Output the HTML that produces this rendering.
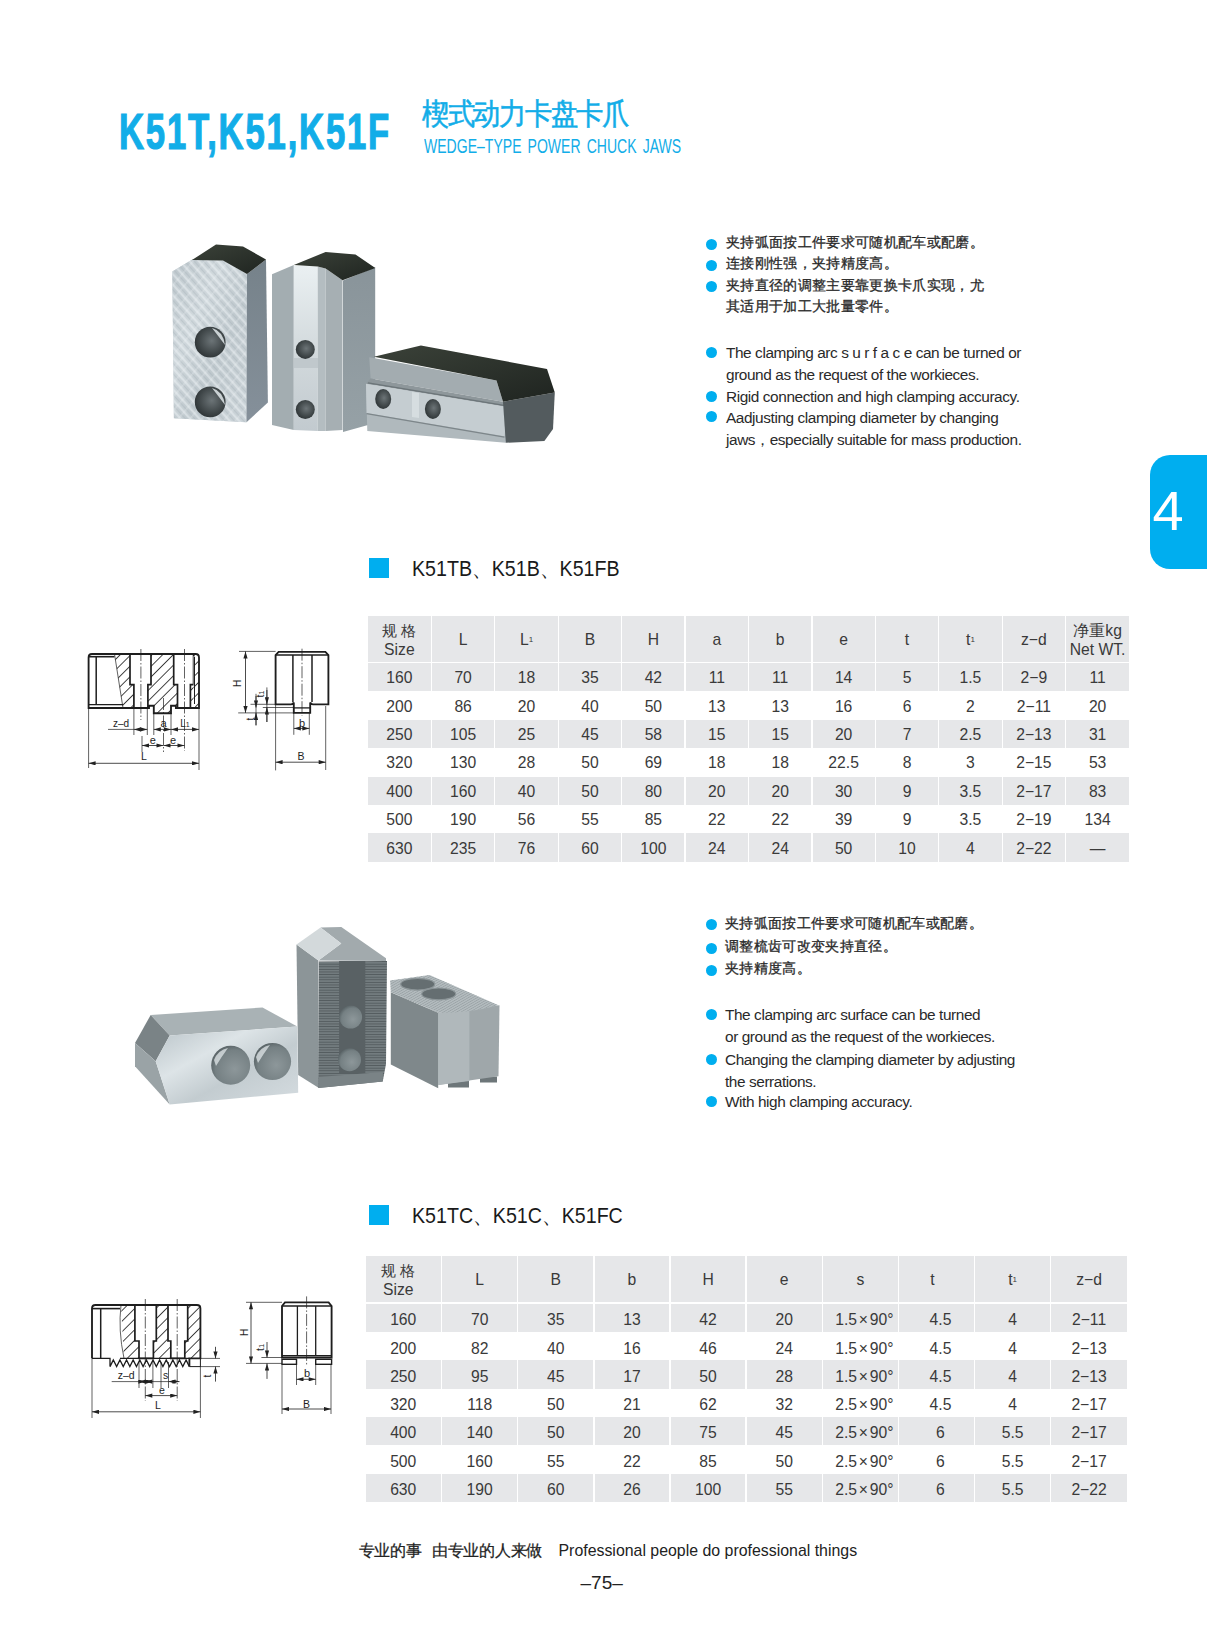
<!DOCTYPE html>
<html><head><meta charset="utf-8">
<style>
html,body{margin:0;padding:0;background:#fff;}
body{width:1207px;height:1649px;position:relative;overflow:hidden;font-family:"Liberation Sans",sans-serif;color:#333;}
.a{position:absolute;white-space:nowrap;}
.tbl{position:absolute;}
.c{position:absolute;display:flex;align-items:center;justify-content:center;text-align:center;font-size:15.7px;color:#3a3a3a;line-height:1;padding-top:2px;box-sizing:border-box;}
.bul{position:absolute;width:11px;height:11px;border-radius:50%;background:#00aeef;}
.cn{font-size:14px;letter-spacing:0.33px;color:#2a2a2a;-webkit-text-stroke:0.3px #2a2a2a;}
.en{font-size:15.4px;letter-spacing:-0.42px;color:#2a2a2a;}
sub{font-size:8px;vertical-align:-1px;}
</style></head><body>

<div class="a" style="left:118.5px;top:101.5px;font-weight:bold;font-size:49.5px;color:#12ade8;transform:scaleX(0.7);letter-spacing:2.6px;-webkit-text-stroke:1.2px #12ade8;transform-origin:0 0;line-height:60px;">K51T,K51,K51F</div>
<div class="a" style="left:422px;top:96px;font-size:27px;color:#12ade8;line-height:36px;letter-spacing:-1.3px;transform:scaleY(1.1);transform-origin:0 18px;-webkit-text-stroke:0.5px #12ade8;">楔式动力卡盘卡爪</div>
<div class="a" style="left:424px;top:136px;font-size:19.5px;color:#12ade8;line-height:20px;transform:scaleX(0.72);transform-origin:0 0;word-spacing:3px;">WEDGE–TYPE POWER CHUCK JAWS</div>
<div class="a" style="left:1150px;top:455px;width:57px;height:114px;background:#00aeef;border-radius:20px 0 0 20px;"></div>
<div class="a" style="left:1152.5px;top:480.5px;font-size:56px;color:#fff;line-height:60px;">4</div>
<div class="a" style="left:369px;top:558px;width:20px;height:20px;background:#00aeef;"></div>
<div class="a" style="left:412px;top:554.5px;font-size:21.8px;line-height:28px;color:#1a1a1a;transform:scaleX(0.9);transform-origin:0 0;">K51TB、K51B、K51FB</div>
<div class="a" style="left:369px;top:1205px;width:20px;height:20px;background:#00aeef;"></div>
<div class="a" style="left:412px;top:1201.5px;font-size:21.8px;line-height:28px;color:#1a1a1a;transform:scaleX(0.9);transform-origin:0 0;">K51TC、K51C、K51FC</div>
<div class="bul" style="left:705.9px;top:238.7px;"></div>
<div class="a cn" style="left:726px;top:231.0px;line-height:22px;">夹持弧面按工件要求可随机配车或配磨。</div>
<div class="bul" style="left:705.9px;top:259.8px;"></div>
<div class="a cn" style="left:726px;top:252.10000000000002px;line-height:22px;">连接刚性强，夹持精度高。</div>
<div class="bul" style="left:705.9px;top:281.2px;"></div>
<div class="a cn" style="left:726px;top:273.5px;line-height:22px;">夹持直径的调整主要靠更换卡爪实现，尤</div>
<div class="a cn" style="left:726px;top:294.8px;line-height:22px;">其适用于加工大批量零件。</div>
<div class="bul" style="left:705.9px;top:346.9px;"></div>
<div class="a en" style="left:726px;top:342.2px;line-height:22px;">The clamping arc s u r f a c e can be turned or</div>
<div class="a en" style="left:726px;top:364.2px;line-height:22px;">ground as the request of the workieces.</div>
<div class="bul" style="left:705.9px;top:390.6px;"></div>
<div class="a en" style="left:726px;top:385.90000000000003px;line-height:22px;">Rigid connection and high clamping accuracy.</div>
<div class="bul" style="left:705.9px;top:411.2px;"></div>
<div class="a en" style="left:726px;top:406.5px;line-height:22px;">Aadjusting clamping diameter by changing</div>
<div class="a en" style="left:726px;top:428.5px;line-height:22px;">jaws，especially suitable for mass production.</div>
<div class="bul" style="left:705.9px;top:919.4px;"></div>
<div class="a cn" style="left:725px;top:911.6999999999999px;line-height:22px;">夹持弧面按工件要求可随机配车或配磨。</div>
<div class="bul" style="left:705.9px;top:942.8px;"></div>
<div class="a cn" style="left:725px;top:935.0999999999999px;line-height:22px;">调整梳齿可改变夹持直径。</div>
<div class="bul" style="left:705.9px;top:964.5px;"></div>
<div class="a cn" style="left:725px;top:956.8px;line-height:22px;">夹持精度高。</div>
<div class="bul" style="left:705.9px;top:1009.0px;"></div>
<div class="a en" style="left:725px;top:1004.3px;line-height:22px;">The clamping arc surface can be turned</div>
<div class="a en" style="left:725px;top:1026.3px;line-height:22px;">or ground as the request of the workieces.</div>
<div class="bul" style="left:705.9px;top:1053.7px;"></div>
<div class="a en" style="left:725px;top:1049.0px;line-height:22px;">Changing the clamping diameter by adjusting</div>
<div class="a en" style="left:725px;top:1071.0px;line-height:22px;">the serrations.</div>
<div class="bul" style="left:705.9px;top:1095.9px;"></div>
<div class="a en" style="left:725px;top:1091.2px;line-height:22px;">With high clamping accuracy.</div>
<div class="c" style="left:368.00px;top:616px;width:62.77px;height:46px;background:#e6e7e9;"><div style="line-height:19px;margin-top:0px;white-space:nowrap;"><span style="font-size:15px;letter-spacing:4px;padding-left:4px;">规格</span><br>Size</div></div>
<div class="c" style="left:432.07px;top:616px;width:62.12px;height:46px;background:#e6e7e9;">L</div>
<div class="c" style="left:495.48px;top:616px;width:62.12px;height:46px;background:#e6e7e9;">L<sub>1</sub></div>
<div class="c" style="left:558.90px;top:616px;width:62.12px;height:46px;background:#e6e7e9;">B</div>
<div class="c" style="left:622.32px;top:616px;width:62.12px;height:46px;background:#e6e7e9;">H</div>
<div class="c" style="left:685.73px;top:616px;width:62.12px;height:46px;background:#e6e7e9;">a</div>
<div class="c" style="left:749.15px;top:616px;width:62.12px;height:46px;background:#e6e7e9;">b</div>
<div class="c" style="left:812.57px;top:616px;width:62.12px;height:46px;background:#e6e7e9;">e</div>
<div class="c" style="left:875.98px;top:616px;width:62.12px;height:46px;background:#e6e7e9;">t</div>
<div class="c" style="left:939.40px;top:616px;width:62.12px;height:46px;background:#e6e7e9;">t<sub>1</sub></div>
<div class="c" style="left:1002.82px;top:616px;width:62.12px;height:46px;background:#e6e7e9;">z−d</div>
<div class="c" style="left:1066.23px;top:616px;width:62.77px;height:46px;background:#e6e7e9;"><div style="line-height:18.5px;margin-top:1px;">净重kg<br>Net WT.</div></div>
<div class="c" style="left:368.00px;top:662.80px;width:62.77px;height:28.42px;background:#e6e7e9;padding-top:2px;">160</div>
<div class="c" style="left:432.07px;top:662.80px;width:62.12px;height:28.42px;background:#e6e7e9;padding-top:2px;">70</div>
<div class="c" style="left:495.48px;top:662.80px;width:62.12px;height:28.42px;background:#e6e7e9;padding-top:2px;">18</div>
<div class="c" style="left:558.90px;top:662.80px;width:62.12px;height:28.42px;background:#e6e7e9;padding-top:2px;">35</div>
<div class="c" style="left:622.32px;top:662.80px;width:62.12px;height:28.42px;background:#e6e7e9;padding-top:2px;">42</div>
<div class="c" style="left:685.73px;top:662.80px;width:62.12px;height:28.42px;background:#e6e7e9;padding-top:2px;">11</div>
<div class="c" style="left:749.15px;top:662.80px;width:62.12px;height:28.42px;background:#e6e7e9;padding-top:2px;">11</div>
<div class="c" style="left:812.57px;top:662.80px;width:62.12px;height:28.42px;background:#e6e7e9;padding-top:2px;">14</div>
<div class="c" style="left:875.98px;top:662.80px;width:62.12px;height:28.42px;background:#e6e7e9;padding-top:2px;">5</div>
<div class="c" style="left:939.40px;top:662.80px;width:62.12px;height:28.42px;background:#e6e7e9;padding-top:2px;">1.5</div>
<div class="c" style="left:1002.82px;top:662.80px;width:62.12px;height:28.42px;background:#e6e7e9;padding-top:2px;">2−9</div>
<div class="c" style="left:1066.23px;top:662.80px;width:62.77px;height:28.42px;background:#e6e7e9;padding-top:2px;">11</div>
<div class="c" style="left:368.00px;top:691.23px;width:62.77px;height:28.42px;background:#fff;padding-top:2px;">200</div>
<div class="c" style="left:432.07px;top:691.23px;width:62.12px;height:28.42px;background:#fff;padding-top:2px;">86</div>
<div class="c" style="left:495.48px;top:691.23px;width:62.12px;height:28.42px;background:#fff;padding-top:2px;">20</div>
<div class="c" style="left:558.90px;top:691.23px;width:62.12px;height:28.42px;background:#fff;padding-top:2px;">40</div>
<div class="c" style="left:622.32px;top:691.23px;width:62.12px;height:28.42px;background:#fff;padding-top:2px;">50</div>
<div class="c" style="left:685.73px;top:691.23px;width:62.12px;height:28.42px;background:#fff;padding-top:2px;">13</div>
<div class="c" style="left:749.15px;top:691.23px;width:62.12px;height:28.42px;background:#fff;padding-top:2px;">13</div>
<div class="c" style="left:812.57px;top:691.23px;width:62.12px;height:28.42px;background:#fff;padding-top:2px;">16</div>
<div class="c" style="left:875.98px;top:691.23px;width:62.12px;height:28.42px;background:#fff;padding-top:2px;">6</div>
<div class="c" style="left:939.40px;top:691.23px;width:62.12px;height:28.42px;background:#fff;padding-top:2px;">2</div>
<div class="c" style="left:1002.82px;top:691.23px;width:62.12px;height:28.42px;background:#fff;padding-top:2px;">2−11</div>
<div class="c" style="left:1066.23px;top:691.23px;width:62.77px;height:28.42px;background:#fff;padding-top:2px;">20</div>
<div class="c" style="left:368.00px;top:719.66px;width:62.77px;height:28.42px;background:#e6e7e9;padding-top:2px;">250</div>
<div class="c" style="left:432.07px;top:719.66px;width:62.12px;height:28.42px;background:#e6e7e9;padding-top:2px;">105</div>
<div class="c" style="left:495.48px;top:719.66px;width:62.12px;height:28.42px;background:#e6e7e9;padding-top:2px;">25</div>
<div class="c" style="left:558.90px;top:719.66px;width:62.12px;height:28.42px;background:#e6e7e9;padding-top:2px;">45</div>
<div class="c" style="left:622.32px;top:719.66px;width:62.12px;height:28.42px;background:#e6e7e9;padding-top:2px;">58</div>
<div class="c" style="left:685.73px;top:719.66px;width:62.12px;height:28.42px;background:#e6e7e9;padding-top:2px;">15</div>
<div class="c" style="left:749.15px;top:719.66px;width:62.12px;height:28.42px;background:#e6e7e9;padding-top:2px;">15</div>
<div class="c" style="left:812.57px;top:719.66px;width:62.12px;height:28.42px;background:#e6e7e9;padding-top:2px;">20</div>
<div class="c" style="left:875.98px;top:719.66px;width:62.12px;height:28.42px;background:#e6e7e9;padding-top:2px;">7</div>
<div class="c" style="left:939.40px;top:719.66px;width:62.12px;height:28.42px;background:#e6e7e9;padding-top:2px;">2.5</div>
<div class="c" style="left:1002.82px;top:719.66px;width:62.12px;height:28.42px;background:#e6e7e9;padding-top:2px;">2−13</div>
<div class="c" style="left:1066.23px;top:719.66px;width:62.77px;height:28.42px;background:#e6e7e9;padding-top:2px;">31</div>
<div class="c" style="left:368.00px;top:748.09px;width:62.77px;height:28.42px;background:#fff;padding-top:2px;">320</div>
<div class="c" style="left:432.07px;top:748.09px;width:62.12px;height:28.42px;background:#fff;padding-top:2px;">130</div>
<div class="c" style="left:495.48px;top:748.09px;width:62.12px;height:28.42px;background:#fff;padding-top:2px;">28</div>
<div class="c" style="left:558.90px;top:748.09px;width:62.12px;height:28.42px;background:#fff;padding-top:2px;">50</div>
<div class="c" style="left:622.32px;top:748.09px;width:62.12px;height:28.42px;background:#fff;padding-top:2px;">69</div>
<div class="c" style="left:685.73px;top:748.09px;width:62.12px;height:28.42px;background:#fff;padding-top:2px;">18</div>
<div class="c" style="left:749.15px;top:748.09px;width:62.12px;height:28.42px;background:#fff;padding-top:2px;">18</div>
<div class="c" style="left:812.57px;top:748.09px;width:62.12px;height:28.42px;background:#fff;padding-top:2px;">22.5</div>
<div class="c" style="left:875.98px;top:748.09px;width:62.12px;height:28.42px;background:#fff;padding-top:2px;">8</div>
<div class="c" style="left:939.40px;top:748.09px;width:62.12px;height:28.42px;background:#fff;padding-top:2px;">3</div>
<div class="c" style="left:1002.82px;top:748.09px;width:62.12px;height:28.42px;background:#fff;padding-top:2px;">2−15</div>
<div class="c" style="left:1066.23px;top:748.09px;width:62.77px;height:28.42px;background:#fff;padding-top:2px;">53</div>
<div class="c" style="left:368.00px;top:776.52px;width:62.77px;height:28.42px;background:#e6e7e9;padding-top:2px;">400</div>
<div class="c" style="left:432.07px;top:776.52px;width:62.12px;height:28.42px;background:#e6e7e9;padding-top:2px;">160</div>
<div class="c" style="left:495.48px;top:776.52px;width:62.12px;height:28.42px;background:#e6e7e9;padding-top:2px;">40</div>
<div class="c" style="left:558.90px;top:776.52px;width:62.12px;height:28.42px;background:#e6e7e9;padding-top:2px;">50</div>
<div class="c" style="left:622.32px;top:776.52px;width:62.12px;height:28.42px;background:#e6e7e9;padding-top:2px;">80</div>
<div class="c" style="left:685.73px;top:776.52px;width:62.12px;height:28.42px;background:#e6e7e9;padding-top:2px;">20</div>
<div class="c" style="left:749.15px;top:776.52px;width:62.12px;height:28.42px;background:#e6e7e9;padding-top:2px;">20</div>
<div class="c" style="left:812.57px;top:776.52px;width:62.12px;height:28.42px;background:#e6e7e9;padding-top:2px;">30</div>
<div class="c" style="left:875.98px;top:776.52px;width:62.12px;height:28.42px;background:#e6e7e9;padding-top:2px;">9</div>
<div class="c" style="left:939.40px;top:776.52px;width:62.12px;height:28.42px;background:#e6e7e9;padding-top:2px;">3.5</div>
<div class="c" style="left:1002.82px;top:776.52px;width:62.12px;height:28.42px;background:#e6e7e9;padding-top:2px;">2−17</div>
<div class="c" style="left:1066.23px;top:776.52px;width:62.77px;height:28.42px;background:#e6e7e9;padding-top:2px;">83</div>
<div class="c" style="left:368.00px;top:804.95px;width:62.77px;height:28.42px;background:#fff;padding-top:2px;">500</div>
<div class="c" style="left:432.07px;top:804.95px;width:62.12px;height:28.42px;background:#fff;padding-top:2px;">190</div>
<div class="c" style="left:495.48px;top:804.95px;width:62.12px;height:28.42px;background:#fff;padding-top:2px;">56</div>
<div class="c" style="left:558.90px;top:804.95px;width:62.12px;height:28.42px;background:#fff;padding-top:2px;">55</div>
<div class="c" style="left:622.32px;top:804.95px;width:62.12px;height:28.42px;background:#fff;padding-top:2px;">85</div>
<div class="c" style="left:685.73px;top:804.95px;width:62.12px;height:28.42px;background:#fff;padding-top:2px;">22</div>
<div class="c" style="left:749.15px;top:804.95px;width:62.12px;height:28.42px;background:#fff;padding-top:2px;">22</div>
<div class="c" style="left:812.57px;top:804.95px;width:62.12px;height:28.42px;background:#fff;padding-top:2px;">39</div>
<div class="c" style="left:875.98px;top:804.95px;width:62.12px;height:28.42px;background:#fff;padding-top:2px;">9</div>
<div class="c" style="left:939.40px;top:804.95px;width:62.12px;height:28.42px;background:#fff;padding-top:2px;">3.5</div>
<div class="c" style="left:1002.82px;top:804.95px;width:62.12px;height:28.42px;background:#fff;padding-top:2px;">2−19</div>
<div class="c" style="left:1066.23px;top:804.95px;width:62.77px;height:28.42px;background:#fff;padding-top:2px;">134</div>
<div class="c" style="left:368.00px;top:833.38px;width:62.77px;height:28.42px;background:#e6e7e9;padding-top:2px;">630</div>
<div class="c" style="left:432.07px;top:833.38px;width:62.12px;height:28.42px;background:#e6e7e9;padding-top:2px;">235</div>
<div class="c" style="left:495.48px;top:833.38px;width:62.12px;height:28.42px;background:#e6e7e9;padding-top:2px;">76</div>
<div class="c" style="left:558.90px;top:833.38px;width:62.12px;height:28.42px;background:#e6e7e9;padding-top:2px;">60</div>
<div class="c" style="left:622.32px;top:833.38px;width:62.12px;height:28.42px;background:#e6e7e9;padding-top:2px;">100</div>
<div class="c" style="left:685.73px;top:833.38px;width:62.12px;height:28.42px;background:#e6e7e9;padding-top:2px;">24</div>
<div class="c" style="left:749.15px;top:833.38px;width:62.12px;height:28.42px;background:#e6e7e9;padding-top:2px;">24</div>
<div class="c" style="left:812.57px;top:833.38px;width:62.12px;height:28.42px;background:#e6e7e9;padding-top:2px;">50</div>
<div class="c" style="left:875.98px;top:833.38px;width:62.12px;height:28.42px;background:#e6e7e9;padding-top:2px;">10</div>
<div class="c" style="left:939.40px;top:833.38px;width:62.12px;height:28.42px;background:#e6e7e9;padding-top:2px;">4</div>
<div class="c" style="left:1002.82px;top:833.38px;width:62.12px;height:28.42px;background:#e6e7e9;padding-top:2px;">2−22</div>
<div class="c" style="left:1066.23px;top:833.38px;width:62.77px;height:28.42px;background:#e6e7e9;padding-top:2px;">—</div>
<div class="c" style="left:365.50px;top:1256px;width:75.48px;height:45.6px;background:#e6e7e9;padding-right:10px;"><div style="line-height:19px;margin-top:0px;white-space:nowrap;"><span style="font-size:15px;letter-spacing:4px;padding-left:4px;">规格</span><br>Size</div></div>
<div class="c" style="left:442.28px;top:1256px;width:74.83px;height:45.6px;background:#e6e7e9;">L</div>
<div class="c" style="left:518.41px;top:1256px;width:74.83px;height:45.6px;background:#e6e7e9;">B</div>
<div class="c" style="left:594.54px;top:1256px;width:74.83px;height:45.6px;background:#e6e7e9;">b</div>
<div class="c" style="left:670.67px;top:1256px;width:74.83px;height:45.6px;background:#e6e7e9;">H</div>
<div class="c" style="left:746.80px;top:1256px;width:74.83px;height:45.6px;background:#e6e7e9;">e</div>
<div class="c" style="left:822.93px;top:1256px;width:74.83px;height:45.6px;background:#e6e7e9;">s</div>
<div class="c" style="left:899.06px;top:1256px;width:74.83px;height:45.6px;background:#e6e7e9;padding-right:8px;">t</div>
<div class="c" style="left:975.19px;top:1256px;width:74.83px;height:45.6px;background:#e6e7e9;">t<sub>1</sub></div>
<div class="c" style="left:1051.32px;top:1256px;width:75.48px;height:45.6px;background:#e6e7e9;">z−d</div>
<div class="c" style="left:365.50px;top:1303.80px;width:75.48px;height:28.28px;background:#e6e7e9;padding-top:4.5px;">160</div>
<div class="c" style="left:442.28px;top:1303.80px;width:74.83px;height:28.28px;background:#e6e7e9;padding-top:4.5px;">70</div>
<div class="c" style="left:518.41px;top:1303.80px;width:74.83px;height:28.28px;background:#e6e7e9;padding-top:4.5px;">35</div>
<div class="c" style="left:594.54px;top:1303.80px;width:74.83px;height:28.28px;background:#e6e7e9;padding-top:4.5px;">13</div>
<div class="c" style="left:670.67px;top:1303.80px;width:74.83px;height:28.28px;background:#e6e7e9;padding-top:4.5px;">42</div>
<div class="c" style="left:746.80px;top:1303.80px;width:74.83px;height:28.28px;background:#e6e7e9;padding-top:4.5px;">20</div>
<div class="c" style="left:822.93px;top:1303.80px;width:74.83px;height:28.28px;background:#e6e7e9;padding-left:8px;padding-top:4.5px;">1.5<span style="margin:0 1.8px;">×</span>90°</div>
<div class="c" style="left:899.06px;top:1303.80px;width:74.83px;height:28.28px;background:#e6e7e9;padding-left:8px;padding-top:4.5px;">4.5</div>
<div class="c" style="left:975.19px;top:1303.80px;width:74.83px;height:28.28px;background:#e6e7e9;padding-top:4.5px;">4</div>
<div class="c" style="left:1051.32px;top:1303.80px;width:75.48px;height:28.28px;background:#e6e7e9;padding-top:4.5px;">2−11</div>
<div class="c" style="left:365.50px;top:1332.09px;width:75.48px;height:28.28px;background:#fff;padding-top:4.5px;">200</div>
<div class="c" style="left:442.28px;top:1332.09px;width:74.83px;height:28.28px;background:#fff;padding-top:4.5px;">82</div>
<div class="c" style="left:518.41px;top:1332.09px;width:74.83px;height:28.28px;background:#fff;padding-top:4.5px;">40</div>
<div class="c" style="left:594.54px;top:1332.09px;width:74.83px;height:28.28px;background:#fff;padding-top:4.5px;">16</div>
<div class="c" style="left:670.67px;top:1332.09px;width:74.83px;height:28.28px;background:#fff;padding-top:4.5px;">46</div>
<div class="c" style="left:746.80px;top:1332.09px;width:74.83px;height:28.28px;background:#fff;padding-top:4.5px;">24</div>
<div class="c" style="left:822.93px;top:1332.09px;width:74.83px;height:28.28px;background:#fff;padding-left:8px;padding-top:4.5px;">1.5<span style="margin:0 1.8px;">×</span>90°</div>
<div class="c" style="left:899.06px;top:1332.09px;width:74.83px;height:28.28px;background:#fff;padding-left:8px;padding-top:4.5px;">4.5</div>
<div class="c" style="left:975.19px;top:1332.09px;width:74.83px;height:28.28px;background:#fff;padding-top:4.5px;">4</div>
<div class="c" style="left:1051.32px;top:1332.09px;width:75.48px;height:28.28px;background:#fff;padding-top:4.5px;">2−13</div>
<div class="c" style="left:365.50px;top:1360.38px;width:75.48px;height:28.28px;background:#e6e7e9;padding-top:4.5px;">250</div>
<div class="c" style="left:442.28px;top:1360.38px;width:74.83px;height:28.28px;background:#e6e7e9;padding-top:4.5px;">95</div>
<div class="c" style="left:518.41px;top:1360.38px;width:74.83px;height:28.28px;background:#e6e7e9;padding-top:4.5px;">45</div>
<div class="c" style="left:594.54px;top:1360.38px;width:74.83px;height:28.28px;background:#e6e7e9;padding-top:4.5px;">17</div>
<div class="c" style="left:670.67px;top:1360.38px;width:74.83px;height:28.28px;background:#e6e7e9;padding-top:4.5px;">50</div>
<div class="c" style="left:746.80px;top:1360.38px;width:74.83px;height:28.28px;background:#e6e7e9;padding-top:4.5px;">28</div>
<div class="c" style="left:822.93px;top:1360.38px;width:74.83px;height:28.28px;background:#e6e7e9;padding-left:8px;padding-top:4.5px;">1.5<span style="margin:0 1.8px;">×</span>90°</div>
<div class="c" style="left:899.06px;top:1360.38px;width:74.83px;height:28.28px;background:#e6e7e9;padding-left:8px;padding-top:4.5px;">4.5</div>
<div class="c" style="left:975.19px;top:1360.38px;width:74.83px;height:28.28px;background:#e6e7e9;padding-top:4.5px;">4</div>
<div class="c" style="left:1051.32px;top:1360.38px;width:75.48px;height:28.28px;background:#e6e7e9;padding-top:4.5px;">2−13</div>
<div class="c" style="left:365.50px;top:1388.67px;width:75.48px;height:28.28px;background:#fff;padding-top:4.5px;">320</div>
<div class="c" style="left:442.28px;top:1388.67px;width:74.83px;height:28.28px;background:#fff;padding-top:4.5px;">118</div>
<div class="c" style="left:518.41px;top:1388.67px;width:74.83px;height:28.28px;background:#fff;padding-top:4.5px;">50</div>
<div class="c" style="left:594.54px;top:1388.67px;width:74.83px;height:28.28px;background:#fff;padding-top:4.5px;">21</div>
<div class="c" style="left:670.67px;top:1388.67px;width:74.83px;height:28.28px;background:#fff;padding-top:4.5px;">62</div>
<div class="c" style="left:746.80px;top:1388.67px;width:74.83px;height:28.28px;background:#fff;padding-top:4.5px;">32</div>
<div class="c" style="left:822.93px;top:1388.67px;width:74.83px;height:28.28px;background:#fff;padding-left:8px;padding-top:4.5px;">2.5<span style="margin:0 1.8px;">×</span>90°</div>
<div class="c" style="left:899.06px;top:1388.67px;width:74.83px;height:28.28px;background:#fff;padding-left:8px;padding-top:4.5px;">4.5</div>
<div class="c" style="left:975.19px;top:1388.67px;width:74.83px;height:28.28px;background:#fff;padding-top:4.5px;">4</div>
<div class="c" style="left:1051.32px;top:1388.67px;width:75.48px;height:28.28px;background:#fff;padding-top:4.5px;">2−17</div>
<div class="c" style="left:365.50px;top:1416.96px;width:75.48px;height:28.28px;background:#e6e7e9;padding-top:4.5px;">400</div>
<div class="c" style="left:442.28px;top:1416.96px;width:74.83px;height:28.28px;background:#e6e7e9;padding-top:4.5px;">140</div>
<div class="c" style="left:518.41px;top:1416.96px;width:74.83px;height:28.28px;background:#e6e7e9;padding-top:4.5px;">50</div>
<div class="c" style="left:594.54px;top:1416.96px;width:74.83px;height:28.28px;background:#e6e7e9;padding-top:4.5px;">20</div>
<div class="c" style="left:670.67px;top:1416.96px;width:74.83px;height:28.28px;background:#e6e7e9;padding-top:4.5px;">75</div>
<div class="c" style="left:746.80px;top:1416.96px;width:74.83px;height:28.28px;background:#e6e7e9;padding-top:4.5px;">45</div>
<div class="c" style="left:822.93px;top:1416.96px;width:74.83px;height:28.28px;background:#e6e7e9;padding-left:8px;padding-top:4.5px;">2.5<span style="margin:0 1.8px;">×</span>90°</div>
<div class="c" style="left:899.06px;top:1416.96px;width:74.83px;height:28.28px;background:#e6e7e9;padding-left:8px;padding-top:4.5px;">6</div>
<div class="c" style="left:975.19px;top:1416.96px;width:74.83px;height:28.28px;background:#e6e7e9;padding-top:4.5px;">5.5</div>
<div class="c" style="left:1051.32px;top:1416.96px;width:75.48px;height:28.28px;background:#e6e7e9;padding-top:4.5px;">2−17</div>
<div class="c" style="left:365.50px;top:1445.25px;width:75.48px;height:28.28px;background:#fff;padding-top:4.5px;">500</div>
<div class="c" style="left:442.28px;top:1445.25px;width:74.83px;height:28.28px;background:#fff;padding-top:4.5px;">160</div>
<div class="c" style="left:518.41px;top:1445.25px;width:74.83px;height:28.28px;background:#fff;padding-top:4.5px;">55</div>
<div class="c" style="left:594.54px;top:1445.25px;width:74.83px;height:28.28px;background:#fff;padding-top:4.5px;">22</div>
<div class="c" style="left:670.67px;top:1445.25px;width:74.83px;height:28.28px;background:#fff;padding-top:4.5px;">85</div>
<div class="c" style="left:746.80px;top:1445.25px;width:74.83px;height:28.28px;background:#fff;padding-top:4.5px;">50</div>
<div class="c" style="left:822.93px;top:1445.25px;width:74.83px;height:28.28px;background:#fff;padding-left:8px;padding-top:4.5px;">2.5<span style="margin:0 1.8px;">×</span>90°</div>
<div class="c" style="left:899.06px;top:1445.25px;width:74.83px;height:28.28px;background:#fff;padding-left:8px;padding-top:4.5px;">6</div>
<div class="c" style="left:975.19px;top:1445.25px;width:74.83px;height:28.28px;background:#fff;padding-top:4.5px;">5.5</div>
<div class="c" style="left:1051.32px;top:1445.25px;width:75.48px;height:28.28px;background:#fff;padding-top:4.5px;">2−17</div>
<div class="c" style="left:365.50px;top:1473.54px;width:75.48px;height:28.28px;background:#e6e7e9;padding-top:4.5px;">630</div>
<div class="c" style="left:442.28px;top:1473.54px;width:74.83px;height:28.28px;background:#e6e7e9;padding-top:4.5px;">190</div>
<div class="c" style="left:518.41px;top:1473.54px;width:74.83px;height:28.28px;background:#e6e7e9;padding-top:4.5px;">60</div>
<div class="c" style="left:594.54px;top:1473.54px;width:74.83px;height:28.28px;background:#e6e7e9;padding-top:4.5px;">26</div>
<div class="c" style="left:670.67px;top:1473.54px;width:74.83px;height:28.28px;background:#e6e7e9;padding-top:4.5px;">100</div>
<div class="c" style="left:746.80px;top:1473.54px;width:74.83px;height:28.28px;background:#e6e7e9;padding-top:4.5px;">55</div>
<div class="c" style="left:822.93px;top:1473.54px;width:74.83px;height:28.28px;background:#e6e7e9;padding-left:8px;padding-top:4.5px;">2.5<span style="margin:0 1.8px;">×</span>90°</div>
<div class="c" style="left:899.06px;top:1473.54px;width:74.83px;height:28.28px;background:#e6e7e9;padding-left:8px;padding-top:4.5px;">6</div>
<div class="c" style="left:975.19px;top:1473.54px;width:74.83px;height:28.28px;background:#e6e7e9;padding-top:4.5px;">5.5</div>
<div class="c" style="left:1051.32px;top:1473.54px;width:75.48px;height:28.28px;background:#e6e7e9;padding-top:4.5px;">2−22</div>
<div class="a" style="left:358.5px;top:1540px;font-size:16px;letter-spacing:-0.3px;-webkit-text-stroke:0.25px #222;line-height:22px;color:#222;">专业的事</div>
<div class="a" style="left:432px;top:1540px;font-size:16px;letter-spacing:-0.3px;-webkit-text-stroke:0.25px #222;line-height:22px;color:#222;">由专业的人来做</div>
<div class="a" style="left:558.5px;top:1540px;font-size:15.9px;line-height:22px;color:#222;">Professional people do professional things</div>
<div class="a" style="left:580.5px;top:1571.5px;font-size:19px;line-height:22px;color:#222;">–75–</div>
<svg class="a" style="left:0;top:0;" width="1207" height="1649" viewBox="0 0 1207 1649">
<defs>
<linearGradient id="gFront1" x1="0" y1="0" x2="1" y2="1">
 <stop offset="0" stop-color="#b9c3c8"/><stop offset="0.35" stop-color="#dde4e7"/><stop offset="0.6" stop-color="#c3ccd0"/><stop offset="1" stop-color="#d5dce0"/></linearGradient>
<linearGradient id="gDark" x1="0" y1="0" x2="1" y2="1">
 <stop offset="0" stop-color="#3b4239"/><stop offset="1" stop-color="#1f2420"/></linearGradient>
<linearGradient id="gSide" x1="0" y1="0" x2="0" y2="1">
 <stop offset="0" stop-color="#76828a"/><stop offset="1" stop-color="#85909a"/></linearGradient>
<linearGradient id="gSide2" x1="0" y1="0" x2="0" y2="1">
 <stop offset="0" stop-color="#89949a"/><stop offset="1" stop-color="#96a1a6"/></linearGradient>
<linearGradient id="gLight" x1="0" y1="0" x2="0" y2="1">
 <stop offset="0" stop-color="#eaf0f2"/><stop offset="0.5" stop-color="#d3dadd"/><stop offset="1" stop-color="#c2cacf"/></linearGradient>
<radialGradient id="gHole" cx="0.55" cy="0.45" r="0.6">
 <stop offset="0" stop-color="#6c7477"/><stop offset="0.7" stop-color="#3e4547"/><stop offset="1" stop-color="#2c3234"/></radialGradient>
<radialGradient id="gHoleL" cx="0.6" cy="0.6" r="0.65">
 <stop offset="0" stop-color="#8d979a"/><stop offset="0.75" stop-color="#758083"/><stop offset="1" stop-color="#566063"/></radialGradient>
<pattern id="streakA" width="7" height="7" patternUnits="userSpaceOnUse" patternTransform="rotate(-42)">
 <rect width="7" height="7" fill="none"/><rect x="0" y="0" width="2.2" height="7" fill="#f4f8fa" opacity="0.75"/><rect x="4" y="0" width="1.2" height="7" fill="#9aa6ad" opacity="0.5"/></pattern>
<pattern id="streakB" width="9" height="9" patternUnits="userSpaceOnUse" patternTransform="rotate(40)">
 <rect width="9" height="9" fill="none"/><rect x="0" y="0" width="1.6" height="9" fill="#eef3f5" opacity="0.45"/></pattern>
<clipPath id="cpB1"><polygon points="172.3,271.5 192.3,259.6 223.3,260.5 247,274 246.5,422.3 173.9,418.3"/></clipPath>
<pattern id="ridgeTop" width="2.2" height="2.2" patternUnits="userSpaceOnUse" patternTransform="rotate(60)">
 <rect width="2.2" height="2.2" fill="none"/><rect x="0" y="0" width="0.7" height="2.2" fill="#8d9699" opacity="0.7"/></pattern>
<pattern id="ridges" width="2.6" height="2.6" patternUnits="userSpaceOnUse">
 <rect width="2.6" height="2.6" fill="#737c7f"/><rect y="1.7" width="2.6" height="0.9" fill="#535b5e"/></pattern>
<pattern id="hatch" width="7.5" height="7.5" patternUnits="userSpaceOnUse" patternTransform="rotate(45)">
 <rect width="7.5" height="7.5" fill="#fff"/><rect x="0" y="0" width="0.9" height="7.5" fill="#333"/></pattern>
<marker id="ar" viewBox="0 0 10 6" refX="10" refY="3" markerWidth="8" markerHeight="4.2" orient="auto-start-reverse" markerUnits="userSpaceOnUse"><path d="M0,0 L10,3 L0,6 z" fill="#222"/></marker>
</defs>
<polygon points="172.3,271.5 192.3,259.6 223.3,260.5 247,274 246.5,422.3 173.9,418.3" fill="#bcc6cc"/>
<g clip-path="url(#cpB1)"><rect x="170" y="255" width="80" height="170" fill="url(#gFront1)" opacity="0.6"/><rect x="170" y="255" width="80" height="170" fill="url(#streakA)" opacity="0.55"/><rect x="170" y="255" width="80" height="170" fill="url(#streakB)" opacity="0.6"/></g>
<polygon points="247,274 266,259.6 267.9,402.4 246.5,422.3" fill="url(#gSide)"/>
<polygon points="192,260 216,244.6 243,246.4 266,259.6 247,274 223,260.5" fill="url(#gDark)"/>
<circle cx="210.2" cy="342.2" r="15.4" fill="url(#gHole)"/><circle cx="210.2" cy="401.9" r="15.4" fill="url(#gHole)"/>
<path d="M212,328 Q223,331 225,345 Q219,337 212,328 Z" fill="#dfe6e9" opacity="0.85"/><path d="M212,388 Q223,391 225,405 Q219,397 212,388 Z" fill="#dfe6e9" opacity="0.85"/>
<polygon points="272,274.3 293.8,264.9 293.8,430 272,425" fill="#a3adb1"/>
<polygon points="293.8,265.4 317.7,266.4 317.7,431 293.8,430" fill="url(#gLight)"/>
<polygon points="317.7,266.4 325.6,268.4 325.6,431 317.7,431" fill="#b4bdc1"/>
<polygon points="325.6,268.4 342.5,280.3 342.5,430 325.6,431" fill="#a6afb3"/>
<polygon points="343,280.5 375.2,267.3 375.2,423 343,432" fill="url(#gSide2)"/>
<polygon points="293.8,264.9 325.6,252 355.5,254.4 375.3,267.9 342.5,280.3 325.6,268.4 317.7,266.4" fill="url(#gDark)"/>
<rect x="294" y="358" width="24" height="10" fill="#c0c8cc"/>
<circle cx="305.3" cy="349.4" r="9.5" fill="url(#gHole)"/><circle cx="305.3" cy="409.5" r="9.5" fill="url(#gHole)"/>
<polygon points="366,383.8 507,407 505.8,442.8 367.3,430.9" fill="#b0b9bd"/>
<polygon points="369.3,357.3 496.5,380.5 503,401.7 370.6,378.5" fill="#a3acb0"/>
<polygon points="370.6,378.5 503,401.7 507,407 366,383.8" fill="#8e979b"/>
<polygon points="366,383.8 507,407 504.5,436.2 366.6,413" fill="#c5cdd1"/>
<line x1="368" y1="382.8" x2="507" y2="405.9" stroke="#6c7579" stroke-width="1.3"/>
<line x1="366.6" y1="413.6" x2="504.5" y2="437.2" stroke="#7d868a" stroke-width="1.3"/>
<polygon points="412,392 419,393 419,418 412,417" fill="#d6dde0"/>
<polygon points="503,401.7 554.8,392.4 553,429 544.4,441 505.8,442.8" fill="#535b5e"/>
<polygon points="373.9,356.7 420.9,345.4 547,368.9 554.8,392.4 503,401.7 496.5,380.5" fill="url(#gDark)"/>
<ellipse cx="383.2" cy="399" rx="8" ry="10" fill="url(#gHole)"/><ellipse cx="432.9" cy="409" rx="8" ry="10" fill="url(#gHole)"/>
<polygon points="390.8,992.3 438.2,1012.8 438.2,1088.2 390.8,1064.5" fill="#7f888b"/>
<rect x="448" y="1080.5" width="21" height="7" fill="#6d7679"/><rect x="480" y="1076.5" width="17" height="6" fill="#6d7679"/>
<polygon points="438.2,1012.8 499.5,1005.2 498.5,1076.3 438.2,1085" fill="#9fa7aa"/>
<polygon points="438.2,1012.8 469.4,1010.5 469.4,1081 438.2,1085" fill="#b0b8bb"/>
<path d="M390.2,980.5 L429.5,975.1 L498.5,1005.2 Q470,1013 438.2,1012.8 L390.8,992.3 Z" fill="#b3bbbe"/>
<path d="M390.2,980.5 L429.5,975.1 L498.5,1005.2 Q470,1013 438.2,1012.8 L390.8,992.3 Z" fill="url(#ridgeTop)"/>
<ellipse cx="417.7" cy="984.2" rx="17" ry="5.9" fill="#656e71" stroke="#8c9598" stroke-width="1.2"/><ellipse cx="438.7" cy="993.9" rx="17" ry="5.9" fill="#656e71" stroke="#8c9598" stroke-width="1.2"/>
<polygon points="296.5,944.6 318.4,960.4 318.9,1088 298.2,1075" fill="#8c9598"/>
<polygon points="318.9,961.5 387,961 386,1064 382.7,1081.5 318.4,1088" fill="url(#ridges)"/>
<rect x="339.1" y="961" width="26.2" height="112" fill="#596164"/>
<polygon points="320.6,927.6 341.3,927.1 386,958.2 386,961 318.4,960.4 341.3,943.5" fill="#a2aaad"/>
<polygon points="296.5,944.6 320.6,927.6 341.3,943.5 318.4,960.4" fill="#d3d9db"/>
<circle cx="350.6" cy="1017.1" r="11.5" fill="url(#gHoleL)"/><circle cx="349.5" cy="1059.7" r="11.5" fill="url(#gHoleL)"/>
<polygon points="318.4,1077 383,1072 382.7,1081.5 318.4,1088" fill="#7a8386"/>
<polygon points="150.7,1014.9 262.5,1007.5 297.3,1026.5 169.7,1035.6" fill="#a9b2b5"/>
<polygon points="135,1043 150.7,1015 169.7,1035.6 155.7,1061.3" fill="#7a8386"/>
<polygon points="135,1043 155.7,1061.3 169.7,1104.4 135,1066.3" fill="#9aa3a6"/>
<polygon points="169.7,1035.6 297.3,1026.5 298.2,1092.8 169.7,1104.4 155.7,1061.3" fill="url(#gFront1)"/>
<circle cx="230.7" cy="1065.2" r="19.5" fill="url(#gHoleL)"/><circle cx="272.5" cy="1061.5" r="18.6" fill="url(#gHoleL)"/>
<path d="M214,1060 Q218,1050 228,1048 Q222,1056 216,1066 Z" fill="#d9e0e2" opacity="0.8"/><path d="M256,1057 Q260,1047 270,1045 Q264,1053 258,1063 Z" fill="#d9e0e2" opacity="0.8"/>
<polygon points="114.5,654 199,654 199,708 175.9,708 175.9,705.7 171,705.7 171,713.2 153.8,713.2 153.8,705.7 149,705.7 149,708 123,708" fill="url(#hatch)"/>
<path d="M130,654 V684.7 H133.9 V708 H147.9 V684.7 H151 V654 Z" fill="#fff" stroke="#1e1e1e" stroke-width="1.7"/>
<path d="M173.7,654 V684.7 H177.5 V708 H190.4 V684.7 H193.6 V654 Z" fill="#fff" stroke="#1e1e1e" stroke-width="1.7"/>
<rect x="193.6" y="656" width="1.5" height="52" fill="#fff"/>
<path d="M88.6,708 V657.5 Q88.6,654 92,654 H195.6 Q199,654 199,657.5 V708 H175.9 V705.7 H171 V713.2 H153.8 V705.7 H149 V708 Z" fill="none" stroke="#1e1e1e" stroke-width="1.85"/>
<rect x="88.6" y="654" width="25.9" height="54" fill="none"/>
<line x1="96.2" y1="656.7" x2="96.2" y2="704.6" stroke="#1e1e1e" stroke-width="1.5" />
<line x1="88.6" y1="704.6" x2="123" y2="704.6" stroke="#1e1e1e" stroke-width="1.3" />
<line x1="89" y1="656.7" x2="114.5" y2="656.7" stroke="#1e1e1e" stroke-width="1.6" />
<line x1="114.5" y1="654" x2="123" y2="708" stroke="#1e1e1e" stroke-width="0.7" />
<line x1="194.5" y1="656.7" x2="194.5" y2="704" stroke="#1e1e1e" stroke-width="1.0" />
<line x1="140.9" y1="649" x2="140.9" y2="720" stroke="#1e1e1e" stroke-width="0.7" stroke-dasharray="12,2,1.5,2"/>
<line x1="184.5" y1="649" x2="184.5" y2="751" stroke="#1e1e1e" stroke-width="0.7" stroke-dasharray="12,2,1.5,2"/>
<line x1="163.5" y1="698" x2="163.5" y2="752" stroke="#1e1e1e" stroke-width="0.7" stroke-dasharray="12,2,1.5,2"/>
<line x1="133.9" y1="709" x2="133.9" y2="735" stroke="#1e1e1e" stroke-width="0.7" />
<line x1="147.3" y1="709" x2="147.3" y2="735" stroke="#1e1e1e" stroke-width="0.7" />
<line x1="153.8" y1="713" x2="153.8" y2="735" stroke="#1e1e1e" stroke-width="0.7" />
<line x1="171" y1="713" x2="171" y2="735" stroke="#1e1e1e" stroke-width="0.7" />
<line x1="142" y1="736" x2="142" y2="752" stroke="#1e1e1e" stroke-width="0.7" />
<line x1="88.6" y1="709" x2="88.6" y2="768" stroke="#1e1e1e" stroke-width="0.7" />
<line x1="199" y1="709" x2="199" y2="770" stroke="#1e1e1e" stroke-width="0.7" />
<line x1="108" y1="729.4" x2="133.9" y2="729.4" stroke="#1e1e1e" stroke-width="0.7" />
<line x1="133.9" y1="729.4" x2="147.3" y2="729.4" stroke="#1e1e1e" stroke-width="0.8" marker-start="url(#ar)" marker-end="url(#ar)"/>
<line x1="153.8" y1="729.4" x2="171" y2="729.4" stroke="#1e1e1e" stroke-width="0.8" marker-start="url(#ar)" marker-end="url(#ar)"/>
<line x1="171" y1="729.4" x2="199" y2="729.4" stroke="#1e1e1e" stroke-width="0.8" marker-start="url(#ar)" marker-end="url(#ar)"/>
<line x1="142" y1="745.5" x2="163.5" y2="745.5" stroke="#1e1e1e" stroke-width="0.8" marker-start="url(#ar)" marker-end="url(#ar)"/>
<line x1="163.5" y1="745.5" x2="184.5" y2="745.5" stroke="#1e1e1e" stroke-width="0.8" marker-start="url(#ar)" marker-end="url(#ar)"/>
<line x1="88.6" y1="763.3" x2="199" y2="763.3" stroke="#1e1e1e" stroke-width="0.8" marker-start="url(#ar)" marker-end="url(#ar)"/>
<text x="121" y="727" font-family="Liberation Sans, sans-serif" font-size="10" fill="#1e1e1e" text-anchor="middle">z–d</text>
<text x="163.5" y="727" font-family="Liberation Sans, sans-serif" font-size="11" fill="#1e1e1e" text-anchor="middle">a</text>
<text x="185" y="727" font-family="Liberation Sans, sans-serif" font-size="10" fill="#1e1e1e" text-anchor="middle">L<tspan font-size="7">1</tspan></text>
<text x="152.7" y="744" font-family="Liberation Sans, sans-serif" font-size="11" fill="#1e1e1e" text-anchor="middle">e</text>
<text x="173" y="744" font-family="Liberation Sans, sans-serif" font-size="11" fill="#1e1e1e" text-anchor="middle">e</text>
<text x="144" y="760" font-family="Liberation Sans, sans-serif" font-size="10.5" fill="#1e1e1e" text-anchor="middle">L</text>
<path d="M275.6,704.3 V655 L278.6,651.9 H325.4 L328.4,655 V704.3 H313 Q311,704.3 310.2,702.5 V712.9 H293.8 V702.5 Q293,704.3 291,704.3 Z" fill="none" stroke="#1e1e1e" stroke-width="1.85"/>
<line x1="275.6" y1="655" x2="328.4" y2="655" stroke="#1e1e1e" stroke-width="1.6" />
<line x1="292.9" y1="655" x2="292.9" y2="702" stroke="#1e1e1e" stroke-width="1.5" />
<line x1="312" y1="655" x2="312" y2="702" stroke="#1e1e1e" stroke-width="1.5" />
<line x1="293.8" y1="707.9" x2="310.2" y2="707.9" stroke="#1e1e1e" stroke-width="1.3" />
<line x1="239" y1="651.4" x2="275.6" y2="651.4" stroke="#1e1e1e" stroke-width="0.7" />
<line x1="238.2" y1="712.9" x2="293.8" y2="712.9" stroke="#1e1e1e" stroke-width="0.7" />
<line x1="250.5" y1="704.3" x2="275.6" y2="704.3" stroke="#1e1e1e" stroke-width="0.7" />
<line x1="262.8" y1="707.5" x2="293.8" y2="707.5" stroke="#1e1e1e" stroke-width="0.7" />
<line x1="245.5" y1="651.4" x2="245.5" y2="712.9" stroke="#1e1e1e" stroke-width="0.8" marker-start="url(#ar)" marker-end="url(#ar)"/>
<line x1="266.9" y1="687.4" x2="266.9" y2="722" stroke="#1e1e1e" stroke-width="0.7" />
<line x1="266.9" y1="690" x2="266.9" y2="704.3" stroke="#1e1e1e" stroke-width="0.8" marker-end="url(#ar)"/>
<line x1="266.9" y1="722" x2="266.9" y2="707.5" stroke="#1e1e1e" stroke-width="0.8" marker-end="url(#ar)"/>
<line x1="256" y1="693.8" x2="256" y2="725.7" stroke="#1e1e1e" stroke-width="0.7" />
<line x1="256" y1="696" x2="256" y2="707.5" stroke="#1e1e1e" stroke-width="0.8" marker-end="url(#ar)"/>
<line x1="256" y1="725" x2="256" y2="712.9" stroke="#1e1e1e" stroke-width="0.8" marker-end="url(#ar)"/>
<line x1="302" y1="648.7" x2="302" y2="715.7" stroke="#1e1e1e" stroke-width="0.7" stroke-dasharray="12,2,1.5,2"/>
<line x1="275.6" y1="705" x2="275.6" y2="770.4" stroke="#1e1e1e" stroke-width="0.7" />
<line x1="325.7" y1="706" x2="325.7" y2="770" stroke="#1e1e1e" stroke-width="0.7" />
<line x1="293.8" y1="713" x2="293.8" y2="734.8" stroke="#1e1e1e" stroke-width="0.7" />
<line x1="309.3" y1="713" x2="309.3" y2="734.8" stroke="#1e1e1e" stroke-width="0.7" />
<line x1="293.8" y1="728.4" x2="309.3" y2="728.4" stroke="#1e1e1e" stroke-width="0.8" marker-start="url(#ar)" marker-end="url(#ar)"/>
<line x1="275.6" y1="762.2" x2="325.7" y2="762.2" stroke="#1e1e1e" stroke-width="0.8" marker-start="url(#ar)" marker-end="url(#ar)"/>
<text x="241" y="683.3" font-family="Liberation Sans, sans-serif" font-size="10" fill="#1e1e1e" text-anchor="middle" transform="rotate(-90 241 683.3)">H</text>
<text x="264" y="694" font-family="Liberation Sans, sans-serif" font-size="10.5" fill="#1e1e1e" text-anchor="middle" transform="rotate(-90 264 694)">t<tspan font-size="7.5">1</tspan></text>
<text x="253.5" y="719" font-family="Liberation Sans, sans-serif" font-size="10" fill="#1e1e1e" text-anchor="middle" transform="rotate(-90 253.5 719)">t</text>
<text x="302" y="727" font-family="Liberation Sans, sans-serif" font-size="11" fill="#1e1e1e" text-anchor="middle">b</text>
<text x="301" y="760" font-family="Liberation Sans, sans-serif" font-size="10.5" fill="#1e1e1e" text-anchor="middle">B</text>
<polygon points="121,1305 200.4,1305 200.4,1358.4 124,1358.4" fill="url(#hatch)"/>
<path d="M134.9,1305 V1341 H139 V1358.4 H153.4 V1341 H156.3 V1305 Z" fill="#fff" stroke="#1e1e1e" stroke-width="1.7"/>
<path d="M168,1305 V1341 H170.8 V1358.4 H184.8 V1341 H187.7 V1305 Z" fill="#fff" stroke="#1e1e1e" stroke-width="1.7"/>
<path d="M92,1358.4 V1308.5 Q92,1305 95.5,1305 H196.9 Q200.4,1305 200.4,1308.5 V1358.4 H189.4 V1366.6 " fill="none" stroke="#1e1e1e" stroke-width="1.85"/>
<path d="M92,1358.4 H110 V1366.6 L113.31,1360 L116.62,1366.6 L119.93,1360 L123.23,1366.6 L126.54,1360 L129.85,1366.6 L133.16,1360 L136.47,1366.6 L139.78,1360 L143.08,1366.6 L146.39,1360 L149.70,1366.6 L153.01,1360 L156.32,1366.6 L159.63,1360 L162.93,1366.6 L166.24,1360 L169.55,1366.6 L172.86,1360 L176.17,1366.6 L179.48,1360 L182.78,1366.6 L186.09,1360 L189.40,1366.6 " fill="none" stroke="#1e1e1e" stroke-width="1.3"/>
<line x1="120" y1="1358.4" x2="189.4" y2="1358.4" stroke="#1e1e1e" stroke-width="1.3" />
<line x1="189.4" y1="1366.6" x2="200.4" y2="1366.6" stroke="#1e1e1e" stroke-width="1.0" />
<line x1="200.4" y1="1358.4" x2="200.4" y2="1367" stroke="#1e1e1e" stroke-width="1.0" />
<line x1="100.7" y1="1308.6" x2="100.7" y2="1358.4" stroke="#1e1e1e" stroke-width="1.5" />
<line x1="92" y1="1308.6" x2="120" y2="1308.6" stroke="#1e1e1e" stroke-width="1.6" />
<path d="M121,1305 Q118,1330 124,1358.4" fill="none" stroke="#1e1e1e" stroke-width="0.7"/>
<line x1="145.3" y1="1299" x2="145.3" y2="1401" stroke="#1e1e1e" stroke-width="0.7" stroke-dasharray="12,2,1.5,2"/>
<line x1="177.2" y1="1299" x2="177.2" y2="1401" stroke="#1e1e1e" stroke-width="0.7" stroke-dasharray="12,2,1.5,2"/>
<line x1="139" y1="1362" x2="139" y2="1388" stroke="#1e1e1e" stroke-width="0.7" />
<line x1="152.9" y1="1362" x2="152.9" y2="1388" stroke="#1e1e1e" stroke-width="0.7" />
<line x1="161" y1="1362" x2="161" y2="1388" stroke="#1e1e1e" stroke-width="0.7" />
<line x1="168.5" y1="1362" x2="168.5" y2="1388" stroke="#1e1e1e" stroke-width="0.7" />
<line x1="92" y1="1359" x2="92" y2="1418" stroke="#1e1e1e" stroke-width="0.7" />
<line x1="200.4" y1="1367" x2="200.4" y2="1418" stroke="#1e1e1e" stroke-width="0.7" />
<line x1="111.7" y1="1381.6" x2="139" y2="1381.6" stroke="#1e1e1e" stroke-width="0.7" />
<line x1="139" y1="1381.6" x2="145.3" y2="1381.6" stroke="#1e1e1e" stroke-width="0.8" marker-start="url(#ar)" marker-end="url(#ar)"/>
<line x1="145.3" y1="1381.6" x2="152.9" y2="1381.6" stroke="#1e1e1e" stroke-width="0.8" marker-start="url(#ar)" marker-end="url(#ar)"/>
<line x1="168.5" y1="1381.6" x2="179.5" y2="1381.6" stroke="#1e1e1e" stroke-width="0.8" marker-start="url(#ar)" marker-end="url(#ar)"/>
<line x1="152.9" y1="1381.6" x2="168.5" y2="1381.6" stroke="#1e1e1e" stroke-width="0.7" />
<line x1="145.3" y1="1395.6" x2="177.2" y2="1395.6" stroke="#1e1e1e" stroke-width="0.8" marker-start="url(#ar)" marker-end="url(#ar)"/>
<line x1="92" y1="1411.8" x2="200.4" y2="1411.8" stroke="#1e1e1e" stroke-width="0.8" marker-start="url(#ar)" marker-end="url(#ar)"/>
<line x1="200.4" y1="1358.4" x2="220" y2="1358.4" stroke="#1e1e1e" stroke-width="0.7" />
<line x1="200.4" y1="1366.6" x2="220" y2="1366.6" stroke="#1e1e1e" stroke-width="0.7" />
<line x1="215.5" y1="1346.8" x2="215.5" y2="1358.4" stroke="#1e1e1e" stroke-width="0.8" marker-end="url(#ar)"/>
<line x1="215.5" y1="1381.6" x2="215.5" y2="1366.6" stroke="#1e1e1e" stroke-width="0.8" marker-end="url(#ar)"/>
<text x="126.2" y="1379" font-family="Liberation Sans, sans-serif" font-size="10.5" fill="#1e1e1e" text-anchor="middle">z–d</text>
<text x="165.6" y="1379" font-family="Liberation Sans, sans-serif" font-size="10.5" fill="#1e1e1e" text-anchor="middle">s</text>
<text x="162" y="1393.5" font-family="Liberation Sans, sans-serif" font-size="10.5" fill="#1e1e1e" text-anchor="middle">e</text>
<text x="158" y="1409" font-family="Liberation Sans, sans-serif" font-size="10.5" fill="#1e1e1e" text-anchor="middle">L</text>
<text x="211" y="1376" font-family="Liberation Sans, sans-serif" font-size="10" fill="#1e1e1e" text-anchor="middle" transform="rotate(-90 211 1376)">t</text>
<path d="M282,1357.5 V1306 L285,1302.3 H328.6 L331.6,1306 V1357.5 Z" fill="none" stroke="#1e1e1e" stroke-width="1.85"/>
<line x1="282" y1="1306" x2="331.6" y2="1306" stroke="#1e1e1e" stroke-width="1.6" />
<line x1="282" y1="1355.6" x2="331.6" y2="1355.6" stroke="#1e1e1e" stroke-width="1.3" />
<line x1="297.4" y1="1306" x2="297.4" y2="1355.6" stroke="#1e1e1e" stroke-width="1.3" />
<line x1="315.7" y1="1306" x2="315.7" y2="1355.6" stroke="#1e1e1e" stroke-width="1.3" />
<rect x="282" y="1359.3" width="14.5" height="5" fill="none" stroke="#1e1e1e" stroke-width="1.4"/>
<rect x="315.7" y="1359.3" width="15.9" height="5" fill="none" stroke="#1e1e1e" stroke-width="1.4"/>
<line x1="306.6" y1="1296.4" x2="306.6" y2="1365.7" stroke="#1e1e1e" stroke-width="0.7" stroke-dasharray="12,2,1.5,2"/>
<line x1="246" y1="1302.3" x2="282" y2="1302.3" stroke="#1e1e1e" stroke-width="0.7" />
<line x1="246" y1="1363.4" x2="282" y2="1363.4" stroke="#1e1e1e" stroke-width="0.7" />
<line x1="261.4" y1="1357.5" x2="282" y2="1357.5" stroke="#1e1e1e" stroke-width="0.7" />
<line x1="251" y1="1302.3" x2="251" y2="1363.4" stroke="#1e1e1e" stroke-width="0.8" marker-start="url(#ar)" marker-end="url(#ar)"/>
<line x1="267" y1="1342" x2="267" y2="1357.5" stroke="#1e1e1e" stroke-width="0.8" marker-end="url(#ar)"/>
<line x1="267" y1="1378.9" x2="267" y2="1363.4" stroke="#1e1e1e" stroke-width="0.8" marker-end="url(#ar)"/>
<line x1="296.5" y1="1365" x2="296.5" y2="1385" stroke="#1e1e1e" stroke-width="0.7" />
<line x1="315.7" y1="1365" x2="315.7" y2="1385" stroke="#1e1e1e" stroke-width="0.7" />
<line x1="296.5" y1="1379.3" x2="315.7" y2="1379.3" stroke="#1e1e1e" stroke-width="0.8" marker-start="url(#ar)" marker-end="url(#ar)"/>
<line x1="282" y1="1364.7" x2="282" y2="1414" stroke="#1e1e1e" stroke-width="0.7" />
<line x1="331" y1="1364.7" x2="331" y2="1414" stroke="#1e1e1e" stroke-width="0.7" />
<line x1="282" y1="1409" x2="331" y2="1409" stroke="#1e1e1e" stroke-width="0.8" marker-start="url(#ar)" marker-end="url(#ar)"/>
<text x="248" y="1332.4" font-family="Liberation Sans, sans-serif" font-size="10" fill="#1e1e1e" text-anchor="middle" transform="rotate(-90 248 1332.4)">H</text>
<text x="264.5" y="1347.4" font-family="Liberation Sans, sans-serif" font-size="10.5" fill="#1e1e1e" text-anchor="middle" transform="rotate(-90 264.5 1347.4)">t<tspan font-size="7.5">1</tspan></text>
<text x="307" y="1377" font-family="Liberation Sans, sans-serif" font-size="11" fill="#1e1e1e" text-anchor="middle">b</text>
<text x="306.6" y="1408" font-family="Liberation Sans, sans-serif" font-size="10.5" fill="#1e1e1e" text-anchor="middle">B</text>
</svg>
</body></html>
